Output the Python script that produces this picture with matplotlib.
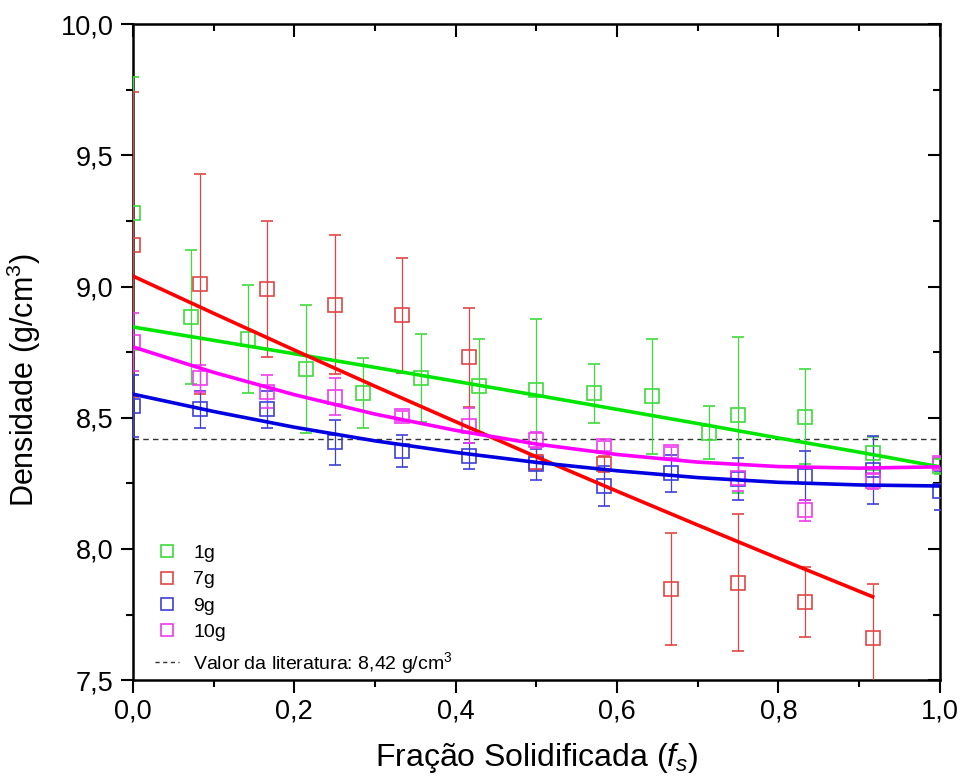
# -*- coding: utf-8 -*-
"""
Densidade x fração solidificada, com barras de erro e curvas de ajuste
"""

import matplotlib
matplotlib.use("Agg")
import matplotlib.pyplot as plt
from matplotlib.lines import Line2D
from matplotlib.ticker import MultipleLocator, FuncFormatter

plt.rcParams['font.family'] = ['Liberation Sans', 'DejaVu Sans']
plt.rcParams['mathtext.fontset'] = 'custom'
plt.rcParams['mathtext.rm'] = 'Liberation Sans'
plt.rcParams['mathtext.it'] = 'Liberation Sans:italic'

# ---- dados ----
x12 = [0, 1/12, 2/12, 3/12, 4/12, 5/12, 6/12, 7/12, 8/12, 9/12, 10/12, 11/12, 1.0]

# 1g
x_1g = [0, 1/14, 2/14, 3/14, 4/14, 5/14, 6/14, 7/14, 8/14, 9/14, 10/14, 0.75, 10/12, 11/12, 1.0]
y_1g = [9.28, 8.885, 8.80, 8.685, 8.595, 8.65, 8.62, 8.605, 8.593, 8.582, 8.443, 8.51, 8.504, 8.364, 8.315]
e_1g = [0.52, 0.255, 0.207, 0.243, 0.133, 0.168, 0.18, 0.272, 0.112, 0.22, 0.10, 0.298, 0.18, 0.063, 0.03]

# 7g
x_7g = x12[:12]
y_7g = [9.16, 9.01, 8.99, 8.93, 8.89, 8.73, 8.33, 8.325, 7.847, 7.872, 7.798, 7.66]
e_7g = [0.58, 0.42, 0.26, 0.265, 0.22, 0.19, 0.03, 0.03, 0.213, 0.26, 0.133, 0.205]

# 9g
x_9g = x12
y_9g = [8.545, 8.532, 8.532, 8.406, 8.374, 8.354, 8.322, 8.24, 8.288, 8.265, 8.279, 8.30, 8.222]
e_9g = [0.117, 0.07, 0.07, 0.087, 0.062, 0.05, 0.06, 0.075, 0.072, 0.08, 0.093, 0.13, 0.075]

# 10g
x_10g = x12
y_10g = [8.79, 8.65, 8.60, 8.58, 8.506, 8.47, 8.415, 8.392, 8.368, 8.27, 8.148, 8.26, 8.328]
e_10g = [0.11, 0.05, 0.063, 0.07, 0.02, 0.067, 0.03, 0.02, 0.02, 0.05, 0.04, 0.03, 0.02]

# curvas de ajuste
xf = [0, 0.1, 0.2, 0.3, 0.4, 0.5, 0.6, 0.7, 0.8, 0.9, 1.0]
fit_1g = [8.846, 8.795, 8.744, 8.692, 8.639, 8.586, 8.532, 8.478, 8.423, 8.369, 8.313]
fit_9g = [8.59, 8.524, 8.464, 8.412, 8.368, 8.330, 8.298, 8.272, 8.254, 8.244, 8.24]
fit_10g = [8.77, 8.673, 8.588, 8.514, 8.452, 8.40, 8.360, 8.331, 8.314, 8.308, 8.313]
xf_7g = [0, 0.1, 0.2, 0.3, 0.4, 0.5, 0.6, 0.7, 0.8, 11/12]
fit_7g = [9.04, 8.898, 8.758, 8.620, 8.485, 8.351, 8.220, 8.091, 7.964, 7.818]

valor_lit = 8.42

fig = plt.figure(figsize=(9.6, 7.8), dpi=100)
ax = fig.add_axes([0.1385, 0.128, 0.8405, 0.841])

series = [
    (x_1g, y_1g, e_1g, '#3ddc3d', '1g'),
    (x_7g, y_7g, e_7g, '#e04545', '7g'),
    (x_9g, y_9g, e_9g, '#4040d8', '9g'),
    (x_10g, y_10g, e_10g, '#ee3cee', '10g'),
]
handles = []
for xs, ys, es, c, lab in series:
    ax.errorbar(xs, ys, yerr=es, fmt='s', mfc='none', mec=c, ms=9.5, mew=1.2,
                ecolor=c, elinewidth=0.9, capsize=4.5, capthick=0.9, zorder=3)
    handles.append(Line2D([], [], ls='none', marker='s', mfc='none', mec=c,
                          ms=8.5, mew=1.2, label=lab))

ax.plot(xf, fit_1g, color='#00e600', lw=2.6, zorder=4)
ax.plot(xf_7g, fit_7g, color='#ff0000', lw=2.6, zorder=4)
ax.plot(xf, fit_9g, color='#0000e0', lw=2.6, zorder=4)
ax.plot(xf, fit_10g, color='#ff00ff', lw=2.6, zorder=4)

ax.axhline(valor_lit, color='#333333', lw=1.0, dashes=(4, 3), zorder=2)
handles.append(Line2D([], [], color='#333333', lw=1.0, dashes=(3, 2.5),
                      label='Valor da literatura: 8,42 g/cm$^3$'))

ax.set_xlim(0, 1.0)
ax.set_ylim(7.5, 10.0)

virgula = FuncFormatter(lambda v, p: ('%.1f' % v).replace('.', ','))
ax.xaxis.set_major_locator(MultipleLocator(0.2))
ax.xaxis.set_minor_locator(MultipleLocator(0.1))
ax.yaxis.set_major_locator(MultipleLocator(0.5))
ax.yaxis.set_minor_locator(MultipleLocator(0.25))
ax.xaxis.set_major_formatter(virgula)
ax.yaxis.set_major_formatter(virgula)

ax.tick_params(which='both', direction='out', width=1.5, labelsize=19.5)
ax.tick_params(axis='x', pad=4)
ax.tick_params(axis='y', pad=5)
ax.tick_params(which='major', length=9)
ax.tick_params(which='minor', length=5)
for s in ax.spines.values():
    s.set_linewidth(1.8)

# eixos de cima e da direita com marcas para dentro
top = ax.secondary_xaxis('top')
top.xaxis.set_major_locator(MultipleLocator(0.2))
top.xaxis.set_minor_locator(MultipleLocator(0.1))
top.tick_params(which='both', direction='in', width=1.5, labeltop=False)
top.tick_params(which='major', length=9)
top.tick_params(which='minor', length=5)
right = ax.secondary_yaxis('right')
right.yaxis.set_major_locator(MultipleLocator(0.5))
right.yaxis.set_minor_locator(MultipleLocator(0.25))
right.tick_params(which='both', direction='in', width=1.5, labelright=False)
right.tick_params(which='major', length=9)
right.tick_params(which='minor', length=5)

ax.set_xlabel('Fração Solidificada ($f_s$)', fontsize=23, labelpad=12)
ax.set_ylabel('Densidade (g/cm$^3$)', fontsize=22)
ax.yaxis.set_label_coords(-0.112, 0.457)

ax.legend(handles=handles, loc='lower left', bbox_to_anchor=(0.006, -0.02),
          frameon=False, fontsize=14, handlelength=1.2, handletextpad=0.75,
          labelspacing=0.45)

fig.savefig('out.png', dpi=100)
